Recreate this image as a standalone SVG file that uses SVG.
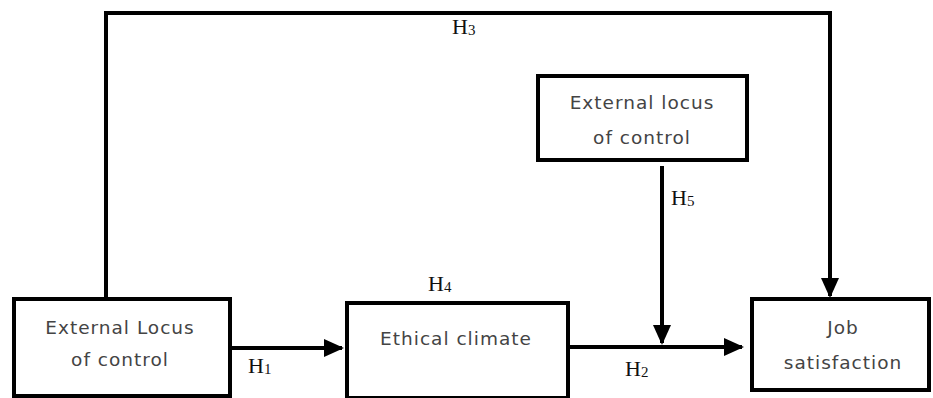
<svg xmlns="http://www.w3.org/2000/svg" width="933" height="398" viewBox="0 0 933 398">
<style>
.box{fill:#fff;stroke:#000;stroke-width:4}
.lbl{font-family:"DejaVu Sans",Verdana,sans-serif;font-size:18.5px;letter-spacing:1px;fill:#444;text-anchor:middle}
.h{font-family:"Liberation Serif","Times New Roman",serif;font-size:22px;fill:#111}
.h tspan{font-size:15px}
.c{fill:none;stroke:#000;stroke-width:4}
</style>
<defs>
<marker id="ah" markerWidth="5" markerHeight="4.5" refX="4.5" refY="2.25" orient="auto" markerUnits="strokeWidth">
<path d="M0,0 L5,2.25 L0,4.5 Z" fill="#000"/>
</marker>
</defs>
<rect width="933" height="398" fill="#fff"/>
<g id="connectors">
<path class="c" d="M106,298 V13 H830 V296" marker-end="url(#ah)"/>
<path class="c" d="M230,348 H342" marker-end="url(#ah)"/>
<path class="c" d="M568,347 H742" marker-end="url(#ah)"/>
<path class="c" d="M662,166 V343" marker-end="url(#ah)"/>
<text class="h" x="452" y="34">H<tspan dy="1">3</tspan></text>
<text class="h" x="248" y="373">H<tspan dy="1">1</tspan></text>
<text class="h" x="428" y="291">H<tspan dy="1">4</tspan></text>
<text class="h" x="625" y="376">H<tspan dy="1">2</tspan></text>
<text class="h" x="671" y="205">H<tspan dy="1">5</tspan></text>
</g>
<g id="n1">
<rect class="box" x="14" y="299" width="216" height="97"/>
<text class="lbl" x="120" y="334">External Locus</text>
<text class="lbl" x="120" y="366">of control</text>
</g>
<g id="n2">
<rect class="box" x="347" y="303" width="221" height="95"/>
<text class="lbl" x="456" y="345">Ethical climate</text>
</g>
<g id="n3">
<rect class="box" x="538" y="76" width="209" height="84"/>
<text class="lbl" x="642" y="109">External locus</text>
<text class="lbl" x="642" y="144">of control</text>
</g>
<g id="n4">
<rect class="box" x="752" y="299" width="177" height="91"/>
<text class="lbl" x="843" y="334">Job</text>
<text class="lbl" x="843" y="369">satisfaction</text>
</g>
</svg>
